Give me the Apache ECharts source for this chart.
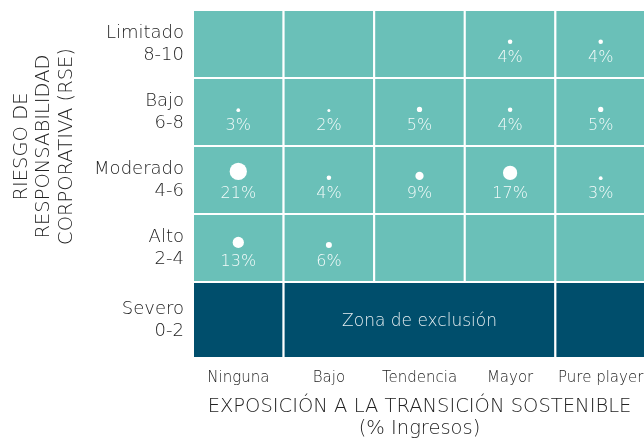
<!DOCTYPE html>
<html>
<head>
<meta charset="utf-8">
<script src="https://cdn.jsdelivr.net/npm/echarts@6/dist/echarts.min.js"></script>
<style>html,body{margin:0;padding:0;background:#fff}#c{width:644px;height:439px}</style>
</head>
<body>
<div id="c"></div>
<script>
// ---- data ----
const exposureCats = ['Ninguna', 'Bajo', 'Tendencia', 'Mayor', 'Pure player'];
const riskCats = ['Alto\n2-4', 'Moderado\n4-6', 'Bajo\n6-8', 'Limitado\n8-10'];
const exclusionCat = ['Severo\n0-2'];
const alto = [13, 6, null, null, null];
const moderado = [21, 4, 9, 17, 3];
const bajo = [3, 2, 5, 4, 5];
const limitado = [null, null, null, 4, 4];
const exclusionSpans = [[0, 0, ''], [1, 3, 'Zona de exclusión'], [4, 4, '']];
const xTitle = 'EXPOSICIÓN A LA TRANSICIÓN SOSTENIBLE\n(% Ingresos)';
const yTitle = 'RIESGO DE\nRESPONSABILIDAD\nCORPORATIVA (RSE)';

// ---- build ----
const TEAL = '#6ac0b8';
const NAVY = '#004e6c';
const FONT = '"DejaVu Sans", sans-serif';
const FW = 200;
const TXT = '#222222';
const rows = [alto, moderado, bajo, limitado];
const cells = [];
const bubbles = [];
rows.forEach((row, y) => row.forEach((v, x) => {
  cells.push([x, y]);
  if (v != null) bubbles.push([x, y, v]);
}));

const chart = echarts.init(document.getElementById('c'), null, {renderer: 'canvas'});
const axisBase = {
  type: 'category',
  axisLine: {show: false},
  axisTick: {show: false},
  splitLine: {show: false}
};
const yLabel = {color: TXT, fontSize: 18, lineHeight: 22, margin: 9, fontFamily: FONT, fontWeight: FW};
chart.setOption({
  animation: false,
  textStyle: {fontFamily: FONT},
  grid: [
    {left: 193, top: 10, width: 453, height: 272, containLabel: false, outerBoundsMode: 'none'},
    {left: 193, top: 282, width: 453, height: 76, containLabel: false, outerBoundsMode: 'none'}
  ],
  xAxis: [
    Object.assign({}, axisBase, {gridIndex: 0, data: exposureCats, axisLabel: {show: false}}),
    Object.assign({}, axisBase, {
      gridIndex: 1, data: exposureCats,
      axisLabel: {color: TXT, fontSize: 15, margin: 13, interval: 0, hideOverlap: false, fontFamily: FONT, fontWeight: FW},
      name: xTitle, nameLocation: 'middle', nameGap: 38,
      nameTextStyle: {color: TXT, fontSize: 19.5, lineHeight: 22, fontFamily: FONT, fontWeight: FW}
    })
  ],
  yAxis: [
    Object.assign({}, axisBase, {gridIndex: 0, data: riskCats, axisLabel: yLabel}),
    Object.assign({}, axisBase, {gridIndex: 1, data: exclusionCat, axisLabel: yLabel})
  ],
  graphic: [{
    type: 'text', rotation: Math.PI / 2, x: 44, y: 146.5,
    style: {
      text: yTitle, fill: TXT, fontSize: 19.5, lineHeight: 22.5,
      fontFamily: FONT, fontWeight: FW, textAlign: 'center', textVerticalAlign: 'middle'
    }
  }],
  series: [
    {
      type: 'custom', xAxisIndex: 0, yAxisIndex: 0, data: cells,
      renderItem: function (params, api) {
        const c = api.coord([api.value(0), api.value(1)]);
        const s = api.size([1, 1]);
        return {
          type: 'rect',
          shape: {x: c[0] - s[0] / 2, y: c[1] - s[1] / 2, width: s[0], height: s[1]},
          style: {fill: TEAL, stroke: '#fff', lineWidth: 2}
        };
      }
    },
    {
      type: 'custom', xAxisIndex: 1, yAxisIndex: 1, data: exclusionSpans,
      renderItem: function (params, api) {
        const a = api.coord([api.value(0), 0]);
        const b = api.coord([api.value(1), 0]);
        const s = api.size([1, 1]);
        const x0 = a[0] - s[0] / 2, x1 = b[0] + s[0] / 2;
        return {
          type: 'group',
          children: [
            {
              type: 'rect',
              shape: {x: x0, y: a[1] - s[1] / 2, width: x1 - x0, height: s[1]},
              style: {fill: NAVY, stroke: '#fff', lineWidth: 2}
            },
            {
              type: 'text',
              style: {
                x: (x0 + x1) / 2, y: a[1] + 2, text: exclusionSpans[params.dataIndex][2],
                fill: '#e4edf0', fontSize: 17, fontFamily: FONT, fontWeight: FW,
                textAlign: 'center', textVerticalAlign: 'middle'
              }
            }
          ]
        };
      }
    },
    {
      type: 'custom', xAxisIndex: 0, yAxisIndex: 0, data: bubbles,
      renderItem: function (params, api) {
        const c = api.coord([api.value(0), api.value(1)]);
        const v = api.value(2);
        const d = v * 0.75 + 1.5;
        return {
          type: 'group',
          children: [
            {
              type: 'circle',
              shape: {cx: c[0], cy: c[1] - d / 2, r: d / 2},
              style: {fill: '#fff'}
            },
            {
              type: 'text',
              style: {
                x: c[0], y: c[1] + 14, text: v + '%',
                fill: 'rgba(255,255,255,0.92)', fontSize: 16, fontFamily: FONT, fontWeight: FW,
                textAlign: 'center', textVerticalAlign: 'middle'
              }
            }
          ]
        };
      }
    }
  ]
});
</script>
</body>
</html>
